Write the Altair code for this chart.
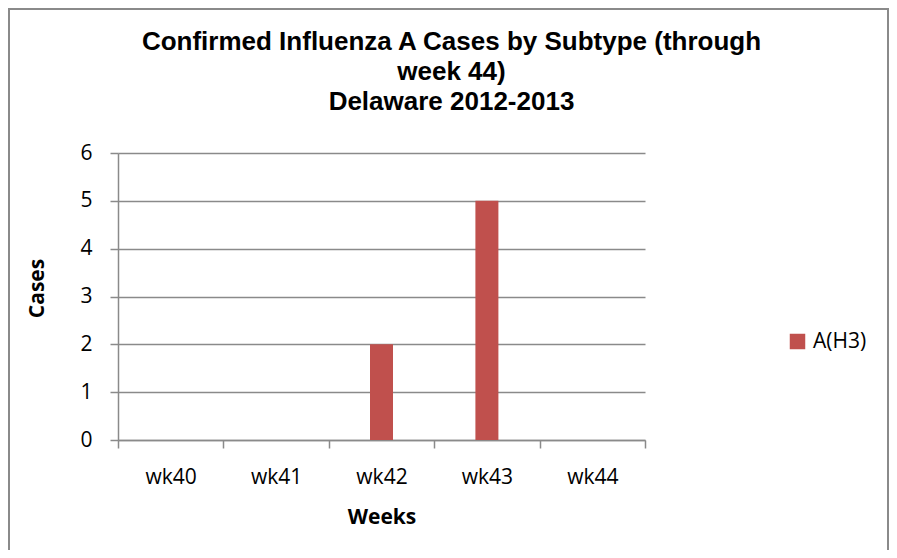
import altair as alt
import pandas as pd

weeks = ["wk40", "wk41", "wk42", "wk43", "wk44"]
cases = [0, 0, 2, 5, 0]
series = ["A(H3)"] * 5
title_lines = ["Confirmed Influenza A Cases by Subtype (through", "week 44)", "Delaware 2012-2013"]
y_ticks = [0, 1, 2, 3, 4, 5, 6]

df = pd.DataFrame({"week": weeks, "cases": cases, "series": series})

LABEL_FONT = "Open Sans"
GRAY = "#8a8a8a"

bars = alt.Chart(df).mark_bar(size=23).encode(
    x=alt.X("week:N", sort=weeks,
            scale=alt.Scale(paddingInner=0, paddingOuter=0),
            axis=alt.Axis(title="Weeks", labelAngle=0, tickBand="extent",
                          tickSize=8, labelPadding=35, labelBaseline="alphabetic",
                          titleY=83, titleBaseline="alphabetic",
                          domainColor=GRAY, tickColor=GRAY, grid=False)),
    y=alt.Y("cases:Q", scale=alt.Scale(domain=[0, 6], nice=False),
            axis=alt.Axis(title="Cases", values=y_ticks, tickSize=8, labelPadding=18,
                          titleX=-75, titleY=135, titleAngle=270, titleBaseline="alphabetic",
                          domainColor=GRAY, tickColor=GRAY, gridColor=GRAY)),
    color=alt.Color("series:N", scale=alt.Scale(domain=["A(H3)"], range=["#C0504D"]),
                    legend=alt.Legend(title=None, orient="none", legendX=669, legendY=178,
                                      symbolType="square", symbolSize=240, symbolStrokeWidth=0,
                                      labelFont=LABEL_FONT, labelFontSize=21, labelColor="black",
                                      labelOffset=5, padding=0)),
)

title = alt.Chart(alt.Data(values=[{}])).mark_text(
    font="Liberation Sans", fontSize=26, fontWeight="bold", lineHeight=30,
    align="center", baseline="alphabetic", color="black"
).encode(x=alt.value(333.5), y=alt.value(-103), text=alt.value(title_lines))

edge = alt.Data(values=[{}])
left_edge = alt.Chart(edge).mark_rule(color=GRAY, strokeWidth=2).encode(
    x=alt.value(-109), y=alt.value(-144), y2=alt.value(400))
top_edge = alt.Chart(edge).mark_rule(color=GRAY, strokeWidth=2).encode(
    x=alt.value(-110), x2=alt.value(771), y=alt.value(-144))
right_edge = alt.Chart(edge).mark_rule(color=GRAY, strokeWidth=2).encode(
    x=alt.value(770), y=alt.value(-144), y2=alt.value(400))

chart = alt.layer(left_edge, top_edge, right_edge, bars, title).properties(
    width=527, height=287,
    autosize=alt.AutoSizeParams(type="none"),
    padding={"left": 110, "top": 145, "right": 244, "bottom": 110},
    background="white",
).configure_view(stroke=None).configure_axis(
    labelFont=LABEL_FONT, labelFontSize=21, labelColor="black",
    titleFont=LABEL_FONT, titleFontSize=21, titleFontWeight="bold", titleColor="black",
    domainWidth=1.5, tickWidth=1.5, gridWidth=1.3,
)

chart.save("out.html", embed_options={"renderer": "svg", "actions": False})
